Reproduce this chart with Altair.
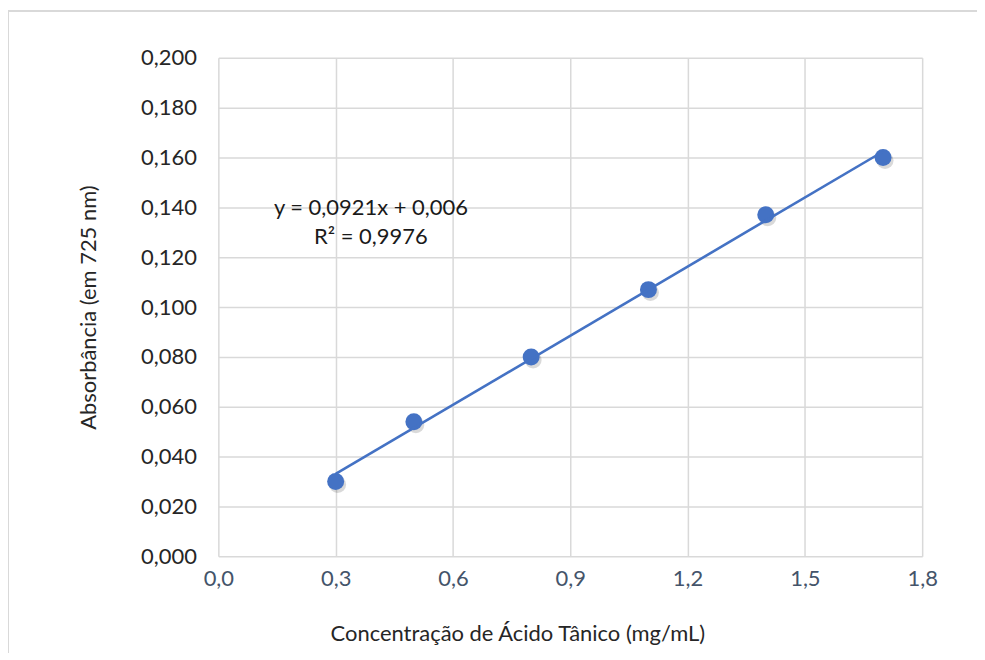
import altair as alt
import pandas as pd

# Data
concentration = [0.3, 0.5, 0.8, 1.1, 1.4, 1.7]
absorbance = [0.030, 0.054, 0.080, 0.107, 0.137, 0.160]
x_ticks = [0.0, 0.3, 0.6, 0.9, 1.2, 1.5, 1.8]
y_ticks = [0.0, 0.02, 0.04, 0.06, 0.08, 0.10, 0.12, 0.14, 0.16, 0.18, 0.20]
equation_lines = ["y = 0,0921x + 0,006", "R² = 0,9976"]

df = pd.DataFrame({"x": concentration, "y": absorbance})

FONT = "Lato"
FS = 22
BLUE = "#4472C4"
GRID = "#D9D9D9"

W, H = 706, 500

x_enc = alt.X(
    "x:Q",
    scale=alt.Scale(domain=[0, 1.8], nice=False, zero=False),
    axis=alt.Axis(
        values=x_ticks,
        labelExpr="replace(format(datum.value, '.1f'), '.', ',')",
        title="Concentração de Ácido Tânico (mg/mL)",
        titleX=300, titleY=77, titleBaseline="middle", titleAlign="center",
        labelColor="#44546A", labelPadding=12, labelFlush=False, labelOverlap=False,
        labelFont=FONT, labelFontSize=FS, titleFont=FONT, titleFontSize=FS,
        titleFontWeight="normal", titleColor="#262626",
        gridColor=GRID, gridWidth=1.5,
        domain=False, ticks=False, grid=True,
    ),
)
y_enc = alt.Y(
    "y:Q",
    scale=alt.Scale(domain=[0, 0.2], nice=False),
    axis=alt.Axis(
        values=y_ticks,
        labelExpr="replace(format(datum.value, '.3f'), '.', ',')",
        title="Absorbância (em 725 nm)",
        titleX=-130, titleY=H / 2, titleAngle=-90, titleBaseline="middle", titleAlign="center",
        labelColor="#262626", labelPadding=22, labelFlush=False, labelOverlap=False,
        labelFont=FONT, labelFontSize=FS, titleFont=FONT, titleFontSize=FS,
        titleFontWeight="normal", titleColor="#262626",
        gridColor=GRID, gridWidth=1.5,
        domain=False, ticks=False, grid=True,
    ),
)

base = alt.Chart(df)

shadow = base.mark_circle(size=290, color="#000000", opacity=0.15, xOffset=2, yOffset=3).encode(
    x=alt.X("x:Q"), y=alt.Y("y:Q"))
points = base.mark_circle(size=290, color=BLUE, opacity=1).encode(x=x_enc, y=y_enc)
trend = base.transform_regression("x", "y").mark_line(color=BLUE, strokeWidth=2.6).encode(
    x=alt.X("x:Q"), y=alt.Y("y:Q"))

one = alt.Data(values=[{}])
eq1 = alt.Chart(one).mark_text(font=FONT, fontSize=FS, color="#1a1a1a", align="center", baseline="middle",
                               text=equation_lines[0]).encode(x=alt.value(153), y=alt.value(151))
eq2 = alt.Chart(one).mark_text(font=FONT, fontSize=FS, color="#1a1a1a", align="center", baseline="middle",
                               text=equation_lines[1]).encode(x=alt.value(153), y=alt.value(180))

frame_top = alt.Chart(one).mark_rule(color=GRID, strokeWidth=2, clip=False).encode(
    x=alt.value(-211), x2=alt.value(770), y=alt.value(-47)
)
frame_left = alt.Chart(one).mark_rule(color=GRID, strokeWidth=2, clip=False).encode(
    x=alt.value(-211), y=alt.value(-47), y2=alt.value(600)
)

chart = alt.layer(shadow, points, trend, frame_top, frame_left, eq1, eq2).properties(
    width=W,
    height=H,
    autosize=alt.AutoSizeParams(type="none"),
    padding={"left": 211, "top": 49, "right": 55, "bottom": 96},
).configure(background="white").configure_view(stroke=None)

chart.save("out.html", embed_options={"renderer": "svg", "actions": False})
